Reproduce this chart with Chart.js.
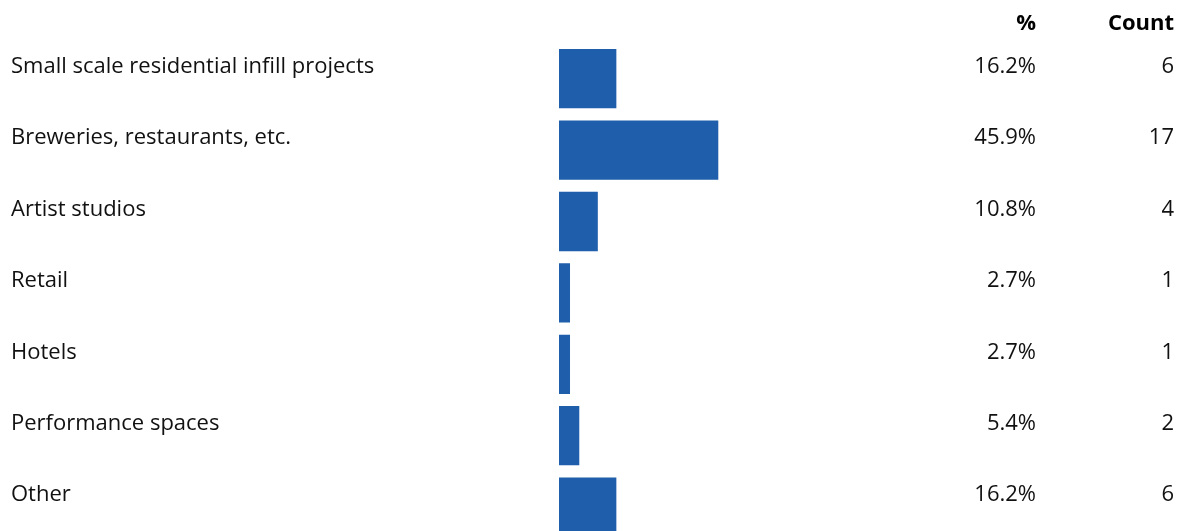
<!DOCTYPE html>
<html lang="en">
<head>
  <meta charset="UTF-8">
  <title>Uses</title>
  <script src="https://cdn.jsdelivr.net/npm/chart.js"></script>
  <style>
    html, body { margin: 0; padding: 0; background: #fff; overflow: hidden; }
    #wrap { width: 1186px; height: 559px; }
  </style>
</head>
<body>
  <div id="wrap"><canvas id="myChart"></canvas></div>

  <script>
    const categories = [
      'Small scale residential infill projects',
      'Breweries, restaurants, etc.',
      'Artist studios',
      'Retail',
      'Hotels',
      'Performance spaces',
      'Other'
    ];
    const percents = [16.2, 45.9, 10.8, 2.7, 2.7, 5.4, 16.2];
    const counts = [6, 17, 4, 1, 1, 2, 6];
    const headers = ['%', 'Count'];

    const FONT = '"Open Sans", Roboto, sans-serif';
    const BASE = -0.51;

    // draws the % and Count columns plus their headers
    const tablePlugin = {
      id: 'table',
      afterDraw(chart) {
        const c = chart.ctx;
        const y = chart.scales.y;
        c.save();
        c.textAlign = 'right';
        c.textBaseline = 'middle';
        c.fillStyle = '#000';
        c.font = 'bold 22px ' + FONT;
        c.fillText(headers[0], 1036, 24);
        c.fillText(headers[1], 1174, 24);
        c.fillStyle = '#111';
        c.font = '22px ' + FONT;
        categories.forEach((_, i) => {
          const py = y.getPixelForValue(i) - 12;
          c.fillText(percents[i].toFixed(1) + '%', 1036, py);
          c.fillText(String(counts[i]), 1174, py);
        });
        c.restore();
      }
    };

    new Chart(document.getElementById('myChart'), {
      type: 'bar',
      data: {
        labels: categories,
        datasets: [{
          data: percents,
          base: BASE,
          backgroundColor: '#1f5eaa',
          barPercentage: 0.83,
          categoryPercentage: 1.0
        }]
      },
      options: {
        indexAxis: 'y',
        responsive: true,
        maintainAspectRatio: false,
        animation: false,
        layout: { padding: { left: 11, right: 282, top: 43, bottom: 5 } },
        plugins: {
          legend: { display: false },
          tooltip: { enabled: false }
        },
        scales: {
          x: {
            display: false,
            min: BASE,
            max: 100
          },
          y: {
            grid: { display: false },
            border: { display: false },
            afterFit(scale) { scale.width = 548; },
            ticks: {
              crossAlign: 'far',
              labelOffset: -12,
              color: '#111',
              font: { family: FONT, size: 22 }
            }
          }
        }
      },
      plugins: [tablePlugin]
    });
  </script>
</body>
</html>
